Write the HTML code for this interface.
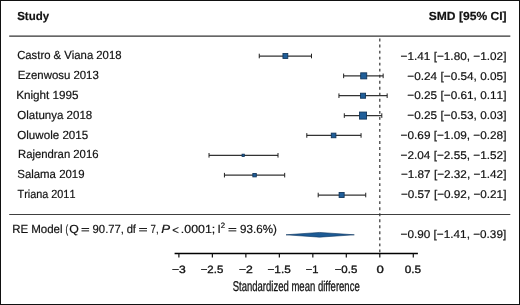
<!DOCTYPE html><html><head><meta charset="utf-8"><style>html,body{margin:0;padding:0;background:#fff;}svg{display:block;}text{font-family:"Liberation Sans",sans-serif;fill:#121212;font-kerning:none;text-rendering:geometricPrecision;stroke:#121212;stroke-width:0.4px;}</style></head><body>
<svg width="520" height="305" viewBox="0 0 520 305">
<rect x="0" y="0" width="520" height="305" fill="#fff"/>
<rect x="0.5" y="0.5" width="519" height="304" fill="none" stroke="#111" stroke-width="1"/>
<line x1="9.2" y1="36.2" x2="510.3" y2="36.2" stroke="#333" stroke-width="1.3"/>
<line x1="9.2" y1="214.5" x2="510.3" y2="214.5" stroke="#404040" stroke-width="1.1"/>
<line x1="379.8" y1="38.6" x2="379.8" y2="253" stroke="#333" stroke-width="1.2" stroke-dasharray="2.9,3.123"/>
<line x1="259.25" y1="56.00" x2="311.49" y2="56.00" stroke="#333" stroke-width="1.25"/>
<line x1="259.25" y1="53.70" x2="259.25" y2="58.30" stroke="#222" stroke-width="1"/>
<line x1="311.49" y1="53.70" x2="311.49" y2="58.30" stroke="#222" stroke-width="1"/>
<rect x="282.95" y="53.57" width="4.85" height="4.85" fill="#1f5e99" stroke="#0f3358" stroke-width="0.85"/>
<line x1="343.64" y1="75.86" x2="383.15" y2="75.86" stroke="#333" stroke-width="1.25"/>
<line x1="343.64" y1="73.56" x2="343.64" y2="78.16" stroke="#222" stroke-width="1"/>
<line x1="383.15" y1="73.56" x2="383.15" y2="78.16" stroke="#222" stroke-width="1"/>
<rect x="360.70" y="72.83" width="6.05" height="6.05" fill="#1f5e99" stroke="#0f3358" stroke-width="0.85"/>
<line x1="338.95" y1="95.72" x2="387.17" y2="95.72" stroke="#333" stroke-width="1.25"/>
<line x1="338.95" y1="93.42" x2="338.95" y2="98.02" stroke="#222" stroke-width="1"/>
<line x1="387.17" y1="93.42" x2="387.17" y2="98.02" stroke="#222" stroke-width="1"/>
<rect x="360.53" y="93.19" width="5.05" height="5.05" fill="#1f5e99" stroke="#0f3358" stroke-width="0.85"/>
<line x1="344.31" y1="115.58" x2="381.81" y2="115.58" stroke="#333" stroke-width="1.25"/>
<line x1="344.31" y1="113.28" x2="344.31" y2="117.88" stroke="#222" stroke-width="1"/>
<line x1="381.81" y1="113.28" x2="381.81" y2="117.88" stroke="#222" stroke-width="1"/>
<rect x="359.53" y="112.05" width="7.05" height="7.05" fill="#1f5e99" stroke="#0f3358" stroke-width="0.85"/>
<line x1="306.80" y1="135.44" x2="361.05" y2="135.44" stroke="#333" stroke-width="1.25"/>
<line x1="306.80" y1="133.14" x2="306.80" y2="137.74" stroke="#222" stroke-width="1"/>
<line x1="361.05" y1="133.14" x2="361.05" y2="137.74" stroke="#222" stroke-width="1"/>
<rect x="331.27" y="133.12" width="4.65" height="4.65" fill="#1f5e99" stroke="#0f3358" stroke-width="0.85"/>
<line x1="209.03" y1="155.30" x2="278.01" y2="155.30" stroke="#333" stroke-width="1.25"/>
<line x1="209.03" y1="153.00" x2="209.03" y2="157.60" stroke="#222" stroke-width="1"/>
<line x1="278.01" y1="153.00" x2="278.01" y2="157.60" stroke="#222" stroke-width="1"/>
<rect x="242.06" y="154.18" width="2.25" height="2.25" fill="#1f5e99" stroke="#0f3358" stroke-width="0.85"/>
<line x1="224.43" y1="175.16" x2="284.70" y2="175.16" stroke="#333" stroke-width="1.25"/>
<line x1="224.43" y1="172.86" x2="224.43" y2="177.46" stroke="#222" stroke-width="1"/>
<line x1="284.70" y1="172.86" x2="284.70" y2="177.46" stroke="#222" stroke-width="1"/>
<rect x="252.84" y="173.44" width="3.45" height="3.45" fill="#1f5e99" stroke="#0f3358" stroke-width="0.85"/>
<line x1="318.19" y1="195.02" x2="365.74" y2="195.02" stroke="#333" stroke-width="1.25"/>
<line x1="318.19" y1="192.72" x2="318.19" y2="197.32" stroke="#222" stroke-width="1"/>
<line x1="365.74" y1="192.72" x2="365.74" y2="197.32" stroke="#222" stroke-width="1"/>
<rect x="339.10" y="192.50" width="5.05" height="5.05" fill="#1f5e99" stroke="#0f3358" stroke-width="0.85"/>
<rect x="81.5" y="228.0" width="7.6" height="0.95" fill="#121212"/>
<rect x="81.5" y="230.4" width="7.6" height="0.95" fill="#121212"/>
<rect x="139.1" y="228.0" width="7.9" height="0.95" fill="#121212"/>
<rect x="139.1" y="230.4" width="7.9" height="0.95" fill="#121212"/>
<rect x="228.5" y="228.0" width="7.8" height="0.95" fill="#121212"/>
<rect x="228.5" y="230.4" width="7.8" height="0.95" fill="#121212"/>
<polygon points="286.0,234.8 319.6,232.45 354.3,234.8 319.6,237.15" fill="#1c5a94" stroke="#0d3660" stroke-width="0.6"/>
<line x1="174.6" y1="253.5" x2="417.9" y2="253.5" stroke="#000" stroke-width="1.45"/>
<line x1="178.89" y1="253.4" x2="178.89" y2="257.6" stroke="#111" stroke-width="1.2"/>
<line x1="212.38" y1="253.4" x2="212.38" y2="257.6" stroke="#111" stroke-width="1.2"/>
<line x1="245.86" y1="253.4" x2="245.86" y2="257.6" stroke="#111" stroke-width="1.2"/>
<line x1="279.35" y1="253.4" x2="279.35" y2="257.6" stroke="#111" stroke-width="1.2"/>
<line x1="312.83" y1="253.4" x2="312.83" y2="257.6" stroke="#111" stroke-width="1.2"/>
<line x1="346.31" y1="253.4" x2="346.31" y2="257.6" stroke="#111" stroke-width="1.2"/>
<line x1="379.80" y1="253.4" x2="379.80" y2="257.6" stroke="#111" stroke-width="1.2"/>
<line x1="413.29" y1="253.4" x2="413.29" y2="257.6" stroke="#111" stroke-width="1.2"/>
<g style="filter:grayscale(1)" transform="scale(0.5)">
<text x="34.34" y="39.40" font-size="23.60" font-weight="bold" textLength="63.78" lengthAdjust="spacingAndGlyphs">Study</text>
<text x="857.50" y="40.00" font-size="23.60" font-weight="bold" textLength="155.65" lengthAdjust="spacingAndGlyphs">SMD [95% CI]</text>
<text x="34.25" y="118.00" font-size="23.60" textLength="208.73" lengthAdjust="spacingAndGlyphs">Castro &amp; Viana 2018</text>
<text x="801.04" y="120.00" font-size="22.40" textLength="211.85" lengthAdjust="spacingAndGlyphs">−1.41 [−1.80, −1.02]</text>
<text x="35.33" y="158.00" font-size="23.60" textLength="162.27" lengthAdjust="spacingAndGlyphs">Ezenwosu 2013</text>
<text x="814.64" y="160.00" font-size="22.40" textLength="198.25" lengthAdjust="spacingAndGlyphs">−0.24 [−0.54, 0.05]</text>
<text x="32.28" y="198.00" font-size="23.60" textLength="124.90" lengthAdjust="spacingAndGlyphs">Knight 1995</text>
<text x="814.64" y="198.00" font-size="22.40" textLength="198.25" lengthAdjust="spacingAndGlyphs">−0.25 [−0.61, 0.11]</text>
<text x="34.51" y="238.00" font-size="23.60" textLength="149.89" lengthAdjust="spacingAndGlyphs">Olatunya 2018</text>
<text x="814.64" y="238.00" font-size="22.40" textLength="198.25" lengthAdjust="spacingAndGlyphs">−0.25 [−0.53, 0.03]</text>
<text x="34.50" y="278.00" font-size="23.60" textLength="141.87" lengthAdjust="spacingAndGlyphs">Oluwole 2015</text>
<text x="801.24" y="278.00" font-size="22.40" textLength="211.64" lengthAdjust="spacingAndGlyphs">−0.69 [−1.09, −0.28]</text>
<text x="35.94" y="316.00" font-size="23.60" textLength="161.05" lengthAdjust="spacingAndGlyphs">Rajendran 2016</text>
<text x="801.04" y="318.00" font-size="22.40" textLength="211.85" lengthAdjust="spacingAndGlyphs">−2.04 [−2.55, −1.52]</text>
<text x="34.56" y="356.00" font-size="23.60" textLength="134.52" lengthAdjust="spacingAndGlyphs">Salama 2019</text>
<text x="801.84" y="356.00" font-size="22.40" textLength="211.03" lengthAdjust="spacingAndGlyphs">−1.87 [−2.32, −1.42]</text>
<text x="35.11" y="396.00" font-size="23.60" textLength="115.75" lengthAdjust="spacingAndGlyphs">Triana 2011</text>
<text x="801.84" y="396.00" font-size="22.40" textLength="211.03" lengthAdjust="spacingAndGlyphs">−0.57 [−0.92, −0.21]</text>
<text x="24.52" y="465.00" font-size="23.60" textLength="31.87" lengthAdjust="spacingAndGlyphs">RE</text>
<text x="62.31" y="465.00" font-size="23.60" textLength="62.84" lengthAdjust="spacingAndGlyphs">Model</text>
<text x="131.22" y="465.00" font-size="23.60" textLength="5.28" lengthAdjust="spacingAndGlyphs">(</text>
<text x="138.43" y="465.00" font-size="23.60" textLength="19.14" lengthAdjust="spacingAndGlyphs">Q</text>
<text x="185.14" y="465.00" font-size="23.60" textLength="62.89" lengthAdjust="spacingAndGlyphs">90.77,</text>
<text x="253.26" y="465.00" font-size="23.60" textLength="18.71" lengthAdjust="spacingAndGlyphs">df</text>
<text x="301.01" y="465.00" font-size="23.60" textLength="16.13" lengthAdjust="spacingAndGlyphs">7,</text>
<text x="322.68" y="465.00" font-size="23.60" font-style="italic" textLength="17.68" lengthAdjust="spacingAndGlyphs">P</text>
<text x="344.28" y="467.00" font-size="23.60" textLength="13.22" lengthAdjust="spacingAndGlyphs">&lt;</text>
<text x="361.74" y="465.00" font-size="23.60" textLength="68.67" lengthAdjust="spacingAndGlyphs">.0001;</text>
<text x="434.82" y="465.00" font-size="23.60">I</text>
<text x="441.26" y="455.40" font-size="15.60">2</text>
<text x="480.11" y="465.00" font-size="23.60" textLength="73.53" lengthAdjust="spacingAndGlyphs">93.6%)</text>
<text x="801.04" y="476.40" font-size="22.40" textLength="211.44" lengthAdjust="spacingAndGlyphs">−0.90 [−1.41, −0.39]</text>
<text x="343.80" y="545.20" font-size="21.20" style="stroke-width:0.64px" textLength="27.66" lengthAdjust="spacingAndGlyphs">−3</text>
<text x="401.27" y="545.20" font-size="21.20" style="stroke-width:0.64px" textLength="45.30" lengthAdjust="spacingAndGlyphs">−2.5</text>
<text x="477.80" y="545.20" font-size="21.20" style="stroke-width:0.64px" textLength="27.83" lengthAdjust="spacingAndGlyphs">−2</text>
<text x="535.04" y="545.20" font-size="21.20" style="stroke-width:0.64px" textLength="46.34" lengthAdjust="spacingAndGlyphs">−1.5</text>
<text x="611.50" y="545.20" font-size="21.20" style="stroke-width:0.64px" textLength="25.39" lengthAdjust="spacingAndGlyphs">−1</text>
<text x="669.27" y="545.20" font-size="21.20" style="stroke-width:0.64px" textLength="45.30" lengthAdjust="spacingAndGlyphs">−0.5</text>
<text x="752.77" y="545.20" font-size="21.20" style="stroke-width:0.64px" textLength="14.66" lengthAdjust="spacingAndGlyphs">0</text>
<text x="809.48" y="545.20" font-size="21.20" style="stroke-width:0.64px" textLength="32.71" lengthAdjust="spacingAndGlyphs">0.5</text>
<text x="465.34" y="582.40" font-size="28.40" style="stroke-width:0.6px" textLength="254.11" lengthAdjust="spacingAndGlyphs">Standardized mean difference</text>
</g>
</svg></body></html>
